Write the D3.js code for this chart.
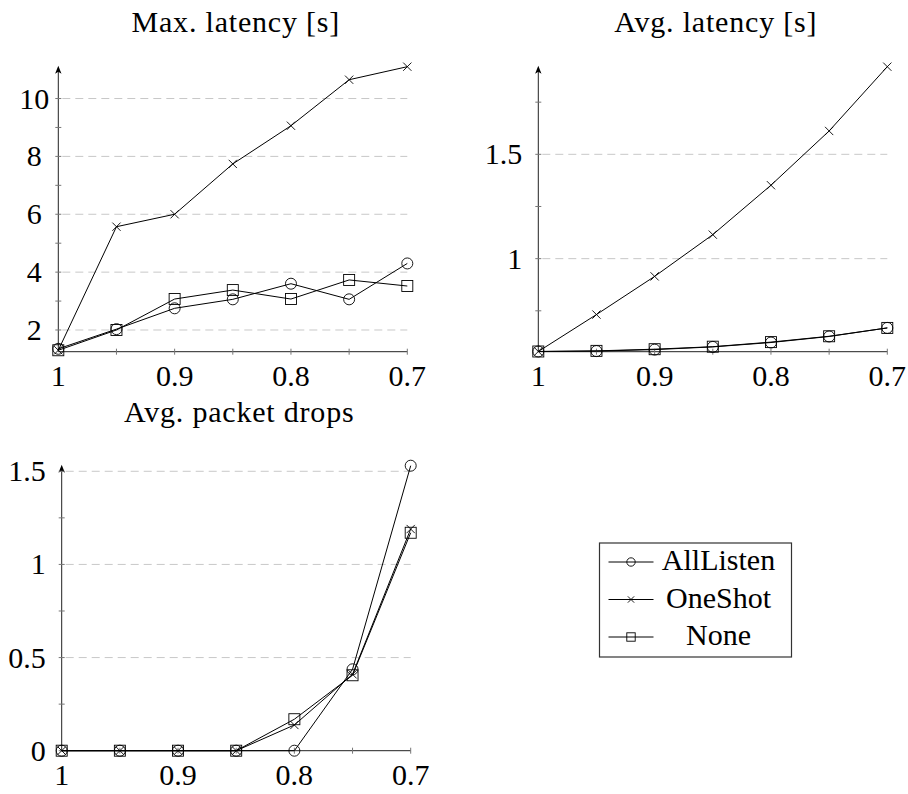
<!DOCTYPE html>
<html>
<head>
<meta charset="utf-8">
<script src="https://cdn.jsdelivr.net/npm/d3@7"></script>
<style>
	body { margin: 0; background: #fff; }
	.grid { stroke: #c8c8c8; stroke-dasharray: 8,5; stroke-width: 1; }
	.axisline { stroke: #222; stroke-width: 1; }
	.tick { stroke: #777; stroke-width: 1; }
	.series { fill: none; stroke: #000; stroke-width: 1; }
	.mark { fill: none; stroke: #000; stroke-width: 0.9; }
</style>
</head>
<body>
<div id="chart"></div>
<script>
// x values: traffic ratio, plotted right-to-left from 1 down to 0.7
var ratios = [1, 0.95, 0.9, 0.85, 0.8, 0.75, 0.7];
var ratioLabels = [1, 0.9, 0.8, 0.7];
var seriesNames = ['AllListen', 'OneShot', 'None'];
var seriesMarks = ['circle', 'cross', 'square'];

var maxLatencyAllListen = [1.35, 2.03, 2.75, 3.06, 3.6, 3.06, 4.3];
var maxLatencyOneShot   = [1.3, 5.57, 6.0, 7.74, 9.06, 10.65, 11.1];
var maxLatencyNone      = [1.3, 2.0, 3.07, 3.38, 3.07, 3.73, 3.52];

var avgLatencyAllListen = [0.555, 0.557, 0.564, 0.577, 0.598, 0.627, 0.668];
var avgLatencyOneShot   = [0.555, 0.732, 0.915, 1.115, 1.352, 1.612, 1.92];
var avgLatencyNone      = [0.555, 0.558, 0.566, 0.578, 0.6, 0.628, 0.668];

var dropsAllListen = [0, 0, 0, 0, 0, 0.437, 1.53];
var dropsOneShot   = [0, 0, 0, 0, 0.138, 0.41, 1.19];
var dropsNone      = [0, 0, 0, 0, 0.169, 0.405, 1.17];

var maxLatencyTicks = [2, 4, 6, 8, 10], maxLatencyMinor = [3, 5, 7, 9];
var avgLatencyTicks = [1, 1.5], avgLatencyMinor = [0.75, 1.25, 1.75];
var dropsTicks = [0, 0.5, 1, 1.5], dropsMinor = [0.25, 0.75, 1.25];

var width = 908, height = 794;
var plotw = 349, ploth = 285;
var font = 'Liberation Serif';
var fontsize = 30;

var svg = d3.select('#chart').append('svg')
	.attr('width', width)
	.attr('height', height);

function addText(parent, x, y, anchor, str) {
	return parent.append('text')
		.attr('x', x)
		.attr('y', y)
		.attr('text-anchor', anchor)
		.attr('font-family', font)
		.attr('font-size', fontsize)
		.attr('fill', '#000')
		.text(str);
}

function drawMark(g, type, x, y, r) {
	if(type == 'circle') {
		g.append('circle').attr('class', 'mark')
			.attr('cx', x).attr('cy', y).attr('r', r);
	}
	else if(type == 'square') {
		g.append('rect').attr('class', 'mark')
			.attr('x', x - r).attr('y', y - r)
			.attr('width', r * 2).attr('height', r * 2);
	}
	else {
		var c = r * 0.75;
		g.append('path').attr('class', 'mark')
			.attr('d', 'M' + [x - c, y - c] + 'L' + [x + c, y + c] + 'M' + [x + c, y - c] + 'L' + [x - c, y + c]);
	}
}

function drawPanel(opts) {
	var g = svg.append('g')
		.attr('transform', 'translate(' + opts.left + ',' + opts.top + ')');

	var x = d3.scaleLinear().domain([1, 0.7]).range([0, plotw]);
	var y = d3.scaleLinear().domain(opts.domain).range([ploth, 0]);

	// title
	addText(svg, opts.left + plotw / 2 + 3, opts.titleY, 'middle', opts.title)
		.attr('letter-spacing', 0.8);

	// grid
	g.selectAll('.grid')
		.data(opts.ticks.filter(function(d) { return d > opts.domain[0]; }))
		.enter().append('line')
		.attr('class', 'grid')
		.attr('x1', 4).attr('x2', plotw)
		.attr('y1', function(d) { return y(d); })
		.attr('y2', function(d) { return y(d); });

	// axis lines
	g.append('line').attr('class', 'axisline')
		.attr('x1', 0).attr('x2', plotw)
		.attr('y1', ploth).attr('y2', ploth);
	g.append('line').attr('class', 'axisline')
		.attr('x1', 0).attr('x2', 0)
		.attr('y1', ploth).attr('y2', 3);
	g.append('path')
		.attr('d', 'M0,-1 L-3.2,7 L0,5 L3.2,7 Z')
		.attr('fill', '#000');

	// y ticks
	g.selectAll('.ytick')
		.data(opts.ticks.concat(opts.minor))
		.enter().append('line')
		.attr('class', 'tick')
		.attr('x1', -3).attr('x2', 3)
		.attr('y1', function(d) { return y(d); })
		.attr('y2', function(d) { return y(d); });

	opts.ticks.forEach(function(d) {
		addText(g, opts.labelX, y(d) + 10, opts.labelAnchor, d3.format('~g')(d));
	});

	// x ticks
	g.selectAll('.xtick')
		.data(ratios.slice(1))
		.enter().append('line')
		.attr('class', 'tick')
		.attr('x1', function(d) { return x(d); })
		.attr('x2', function(d) { return x(d); })
		.attr('y1', ploth - 3).attr('y2', ploth + 3);

	ratioLabels.forEach(function(d) {
		addText(g, x(d), ploth + 34, 'middle', d3.format('~g')(d));
	});

	// series
	var line = d3.line()
		.x(function(d, i) { return x(ratios[i]); })
		.y(function(d) { return y(d); });

	opts.series.forEach(function(values, s) {
		g.append('path')
			.attr('class', 'series')
			.attr('d', line(values));
	});
	opts.series.forEach(function(values, s) {
		values.forEach(function(v, i) {
			drawMark(g, seriesMarks[s], x(ratios[i]), y(v), 5.5);
		});
	});
}

drawPanel({
	title: 'Max. latency [s]', titleY: 32,
	left: 58.3, top: 66.7,
	domain: [1.25, 11.1],
	ticks: maxLatencyTicks, minor: maxLatencyMinor,
	labelX: -24, labelAnchor: 'middle',
	series: [maxLatencyAllListen, maxLatencyOneShot, maxLatencyNone]
});

drawPanel({
	title: 'Avg. latency [s]', titleY: 32,
	left: 538.3, top: 66.7,
	domain: [0.554, 1.92],
	ticks: avgLatencyTicks, minor: avgLatencyMinor,
	labelX: -16, labelAnchor: 'end',
	series: [avgLatencyAllListen, avgLatencyOneShot, avgLatencyNone]
});

drawPanel({
	title: 'Avg. packet drops', titleY: 422,
	left: 61.7, top: 465.7,
	domain: [0, 1.53],
	ticks: dropsTicks, minor: dropsMinor,
	labelX: -16, labelAnchor: 'end',
	series: [dropsAllListen, dropsOneShot, dropsNone]
});

// legend
var legend = svg.append('g').attr('transform', 'translate(599.5,543)');
legend.append('rect')
	.attr('width', 192).attr('height', 114)
	.attr('fill', '#fff')
	.attr('stroke', '#333')
	.attr('stroke-width', 1.2);

seriesNames.forEach(function(name, i) {
	var ly = 19 + i * 37.5;
	legend.append('line').attr('class', 'series')
		.attr('x1', 9).attr('x2', 54)
		.attr('y1', ly).attr('y2', ly);
	drawMark(legend, seriesMarks[i], 31.5, ly, 4.2);
	addText(legend, 119, ly + 8, 'middle', name);
});
</script>
</body>
</html>
